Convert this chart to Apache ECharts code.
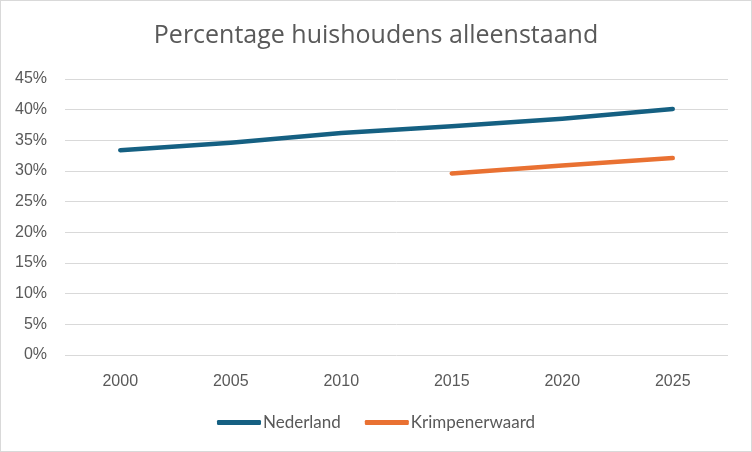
<!DOCTYPE html>
<html>
<head>
<meta charset="utf-8">
<script src="https://cdn.jsdelivr.net/npm/echarts@6/dist/echarts.min.js"></script>
<style>
  html, body { margin: 0; padding: 0; background: #fff; }
  #chart { width: 752px; height: 452px; box-sizing: border-box; border: 1px solid #d9d9d9; }
</style>
</head>
<body>
<div id="chart"></div>
<script>
// Data
const years = ['2000', '2005', '2010', '2015', '2020', '2025'];
const nederland = [33.4, 34.6, 36.2, 37.3, 38.5, 40.1];
const krimpenerwaard = [null, null, null, 29.6, 30.9, 32.1];

const chart = echarts.init(document.getElementById('chart'));

const lineSeries = (name, color, data) => ({
  name: name,
  type: 'line',
  data: data,
  symbol: 'none',
  connectNulls: false,
  lineStyle: { width: 4.5, color: color, cap: 'round', join: 'round' },
  itemStyle: { color: color }
});

const option = {
  animation: false,
  title: {
    text: 'Percentage huishoudens alleenstaand',
    left: 'center',
    top: 17,
    textStyle: { fontFamily: 'Open Sans', fontWeight: 'normal', fontSize: 25, color: '#595959' }
  },
  legend: {
    bottom: 15,
    left: 'center',
    itemWidth: 44,
    itemHeight: 5,
    itemGap: 24,
    icon: 'roundRect',
    textStyle: { fontFamily: 'Lato', fontSize: 17, color: '#595959', padding: [0, 0, 0, -3] },
    data: ['Nederland', 'Krimpenerwaard']
  },
  grid: { left: 64, right: 23, top: 78, bottom: 96 },
  xAxis: {
    type: 'category',
    data: years,
    boundaryGap: true,
    axisLine: { show: false },
    axisTick: { show: false },
    axisLabel: { margin: 19, fontFamily: 'Liberation Sans', fontSize: 16, color: '#595959' }
  },
  yAxis: {
    type: 'value',
    min: 0,
    max: 45,
    interval: 5,
    axisLine: { show: false },
    axisTick: { show: false },
    splitLine: { lineStyle: { color: '#d9d9d9', width: 1 } },
    axisLabel: { margin: 18, fontFamily: 'Liberation Sans', fontSize: 16, color: '#595959', formatter: '{value}%' }
  },
  series: [
    lineSeries('Nederland', '#156082', nederland),
    lineSeries('Krimpenerwaard', '#E97132', krimpenerwaard)
  ]
};

chart.setOption(option);
</script>
</body>
</html>
